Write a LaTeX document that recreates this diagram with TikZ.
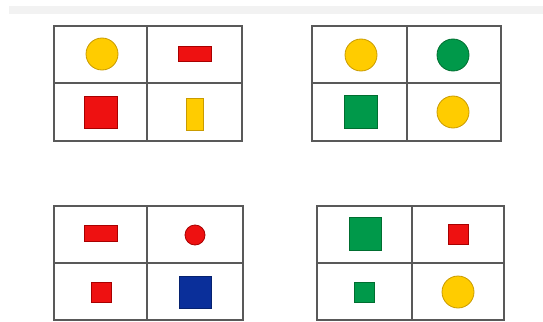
\documentclass[tikz,border=0pt]{standalone}
\usepackage{tikz}
\usetikzlibrary{positioning}

\definecolor{sunyellow}{HTML}{FFCC00}
\definecolor{sunedge}{HTML}{C99B00}
\definecolor{chipred}{HTML}{EE1111}
\definecolor{chipedge}{HTML}{A80000}
\definecolor{leafgreen}{HTML}{00994A}
\definecolor{leafedge}{HTML}{006E30}
\definecolor{deepblue}{HTML}{0A2F9A}
\definecolor{blueedge}{HTML}{06226F}

\begin{document}
\begin{tikzpicture}[x=1pt, y=-1pt,
    panel/.style={draw=black!65, line width=1.3pt},
    chip/.style={inner sep=0pt, outer sep=0pt, line width=0.8pt},
    ydot/.style={chip, circle, fill=sunyellow, draw=sunedge, minimum size=#1},
    gdot/.style={chip, circle, fill=leafgreen, draw=leafedge, minimum size=#1},
    rdot/.style={chip, circle, fill=chipred, draw=chipedge, minimum size=#1},
    rbox/.style={chip, rectangle, fill=chipred, draw=chipedge},
    ybox/.style={chip, rectangle, fill=sunyellow, draw=sunedge},
    gbox/.style={chip, rectangle, fill=leafgreen, draw=leafedge},
    bbox/.style={chip, rectangle, fill=deepblue, draw=blueedge}]

    \useasboundingbox (0,0) rectangle (543,321);

    % Light band at the top
    \fill[black!5] (9,6) rectangle (543,14);

    % The four 2x2 panels
    \foreach \l/\t/\m/\r/\h/\b in {54/26/147/242/83/141, 312/26/407/501/83/141,
                                  54/206/147/243/263/320, 317/206/412/504/263/320} {
        \draw[panel] (\l,\t) rectangle (\r,\b);
        \draw[panel] (\m,\t) -- (\m,\b);
        \draw[panel] (\l,\h) -- (\r,\h);
    }

    % Panel 1 (top left)
    \node[ydot=32pt] (p1a) at (102,54) {};
    \node[rbox, minimum width=33pt, minimum height=15pt] (p1b) at (195,54) {};
    \node[rbox, minimum width=33pt, minimum height=32pt] (p1c) at (101,112) {};
    \node[ybox, minimum width=17pt, minimum height=32pt] (p1d) at (195,114) {};

    % Panel 2 (top right)
    \node[ydot=32pt] (p2a) at (361,55) {};
    \node[gdot=32pt] (p2b) at (453,55) {};
    \node[gbox, minimum width=33pt, minimum height=33pt] (p2c) at (361,112) {};
    \node[ydot=32pt] (p2d) at (453,112) {};

    % Panel 3 (bottom left)
    \node[rbox, minimum width=33pt, minimum height=16pt] (p3a) at (101,233) {};
    \node[rdot=20pt] (p3b) at (195,235) {};
    \node[rbox, minimum width=20pt, minimum height=20pt] (p3c) at (101,292) {};
    \node[bbox, minimum width=32pt, minimum height=32pt] (p3d) at (195,292) {};

    % Panel 4 (bottom right)
    \node[gbox, minimum width=32pt, minimum height=33pt] (p4a) at (365,234) {};
    \node[rbox, minimum width=20pt, minimum height=20pt] (p4b) at (458,234) {};
    \node[gbox, minimum width=20pt, minimum height=20pt] (p4c) at (364,292) {};
    \node[ydot=32pt] (p4d) at (458,292) {};

\end{tikzpicture}
\end{document}
